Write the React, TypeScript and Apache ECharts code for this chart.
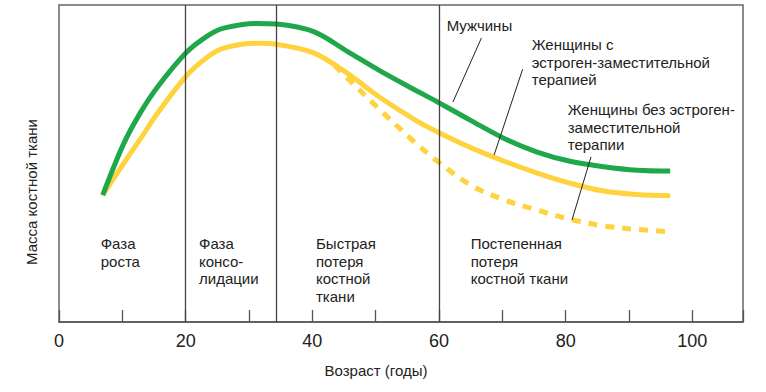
import React, { useEffect, useRef } from "react";
import * as echarts from "echarts";

const FONT = "'Liberation Sans', Arial, sans-serif";

// Age (years) sample points, shared by the two solid curves
const ages = [6.9, 10.2, 12.9, 15.5, 20.1, 23.4, 26, 31.3, 34.3, 40.2, 45.5, 50.7, 56, 59.7, 65, 70.2, 75.5, 80.7, 86, 91.3, 96.5];
// Bone mass, men
const menValues = [40, 56.2, 66.2, 74, 85.0, 90.2, 92.7, 94.2, 94, 91.6, 85.4, 79.2, 73.4, 69.5, 63.6, 58.0, 53.6, 50.7, 49, 47.9, 47.6];
// Bone mass, women with estrogen replacement therapy
const womenHrtValues = [40, 50.0, 57.9, 65.7, 77.6, 83.5, 86.4, 87.9, 87.6, 84.9, 78.5, 70.8, 64.0, 60, 55, 50.8, 47.0, 43.8, 41.3, 40.2, 39.8];
// Women without estrogen replacement therapy (dashed branch)
const noHrtAges = [43.5, 45.5, 50.7, 56, 59.7, 65, 70.2, 75.5, 80.7, 86, 91.3, 96.2];
const noHrtValues = [81, 77, 66.9, 57, 50.8, 43.2, 38.6, 35.3, 32.4, 30.3, 29.2, 28.5];

// Phase boundaries (age)
const phaseBounds = [20, 34.3, 60];

// Tick labels shown on the age axis
const tickLabels = [0, 20, 40, 60, 80, 100];

const xAxisTitle = "Возраст (годы)";
const yAxisTitle = "Масса костной ткани";

const phaseTexts = [
  "Фаза\nроста",
  "Фаза\nконсо-\nлидации",
  "Быстрая\nпотеря\nкостной\nткани",
  "Постепенная\nпотеря\nкостной ткани",
];

const seriesLabels = [
  "Мужчины",
  "Женщины с\nэстроген-заместительной\nтерапией",
  "Женщины без эстроген-\nзаместительной\nтерапии",
];

// Leader lines from labels to curves, in data coordinates [age, mass]
const leaders = [
  [[66.7, 89.6], [62.2, 69.4]],
  [[73.2, 79.7], [68.7, 52.7]],
  [[84.0, 52.1], [81.0, 32.2]],
];

const GREEN = "#1fa84a";
const YELLOW = "#ffd33d";

export default function App() {
  const ref = useRef<HTMLDivElement>(null);
  useEffect(() => {
    if (!ref.current) return;
    const chart = echarts.init(ref.current, null, { renderer: "svg" });
    const zip = (xs: number[], ys: number[]) => xs.map((x, i) => [x, ys[i]]);
    const textStyleBase = { font: `15px ${FONT}`, fill: "#222", lineHeight: 17.5 };
    const phaseX = [100.7, 199, 316, 470.7];
    const lineBase = { type: "line", smooth: 0.35, symbol: "none" };
    const option: any = {
      animation: false,
      grid: {
        left: 59, top: 5, right: 23, bottom: 70, show: true,
        borderColor: "#666", borderWidth: 1.5, backgroundColor: "transparent",
      },
      xAxis: {
        type: "value", min: 0, max: 108, interval: 10,
        axisLine: { show: true, lineStyle: { color: "#555", width: 1.5 } },
        axisTick: { show: true, inside: true, length: 12, lineStyle: { color: "#555", width: 1.3 } },
        axisLabel: {
          formatter: (v: number) => (tickLabels.indexOf(v) >= 0 ? String(v) : ""),
          fontSize: 18, color: "#222", margin: 10, fontFamily: FONT,
          showMaxLabel: true, showMinLabel: true,
        },
        splitLine: { show: false },
      },
      yAxis: {
        type: "value", min: 0, max: 100,
        axisLine: { show: false }, axisTick: { show: false },
        axisLabel: { show: false }, splitLine: { show: false },
      },
      series: [
        {
          ...lineBase, data: zip(noHrtAges, noHrtValues),
          lineStyle: { color: YELLOW, width: 5, type: [9, 8] }, z: 2,
        },
        {
          ...lineBase, data: zip(ages, womenHrtValues),
          lineStyle: { color: YELLOW, width: 5 }, z: 3,
        },
        {
          ...lineBase, data: zip(ages, menValues),
          lineStyle: { color: GREEN, width: 5 }, z: 4,
          markLine: {
            silent: true, symbol: "none", label: { show: false },
            lineStyle: { color: "#444", width: 1.3, type: "solid" },
            data: [
              ...phaseBounds.map((b) => ({ xAxis: b })),
              ...leaders.map((l) => [
                { coord: l[0], lineStyle: { color: "#222", width: 1 } },
                { coord: l[1] },
              ]),
            ],
          },
        },
      ],
      graphic: [
        {
          type: "text", x: 31, y: 192, rotation: Math.PI / 2,
          style: { text: yAxisTitle, font: `15px ${FONT}`, fill: "#222", align: "center", verticalAlign: "middle" },
        },
        {
          type: "text", x: 376, y: 370,
          style: { text: xAxisTitle, font: `15px ${FONT}`, fill: "#222", align: "center", verticalAlign: "middle" },
        },
        ...phaseTexts.map((t, i) => ({
          type: "text", x: phaseX[i], y: 235,
          style: { ...textStyleBase, text: t, align: "left", verticalAlign: "top" },
        })),
        { type: "text", x: 446.7, y: 17, style: { ...textStyleBase, text: seriesLabels[0], verticalAlign: "top" } },
        { type: "text", x: 531.7, y: 36, style: { ...textStyleBase, text: seriesLabels[1], verticalAlign: "top" } },
        { type: "text", x: 567.7, y: 101, style: { ...textStyleBase, text: seriesLabels[2], verticalAlign: "top" } },
      ],
    };
    chart.setOption(option);
    return () => chart.dispose();
  }, []);
  return <div ref={ref} style={{ position: "absolute", left: 0, top: 0, width: 766, height: 392 }} />;
}
